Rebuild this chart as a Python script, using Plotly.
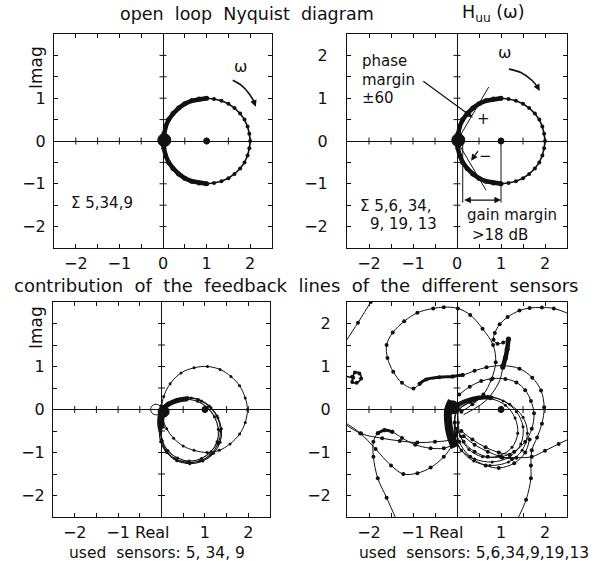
import plotly.graph_objects as go

W, H = 606, 561
INK = "#111111"
FONT = "DejaVu Sans"

# ---------------- data: open loop H_uu(w), real / imag ----------------
huu_dense_re = [1.00, 0.83, 0.66, 0.50, 0.36, 0.23, 0.13, 0.06, 0.02, 0.00,
                0.02, 0.06, 0.13, 0.23, 0.36, 0.50, 0.66, 0.83, 1.00]
huu_dense_im = [1.00, 0.98, 0.94, 0.87, 0.77, 0.64, 0.50, 0.34, 0.17, 0.00,
                -0.17, -0.34, -0.50, -0.64, -0.77, -0.87, -0.94, -0.98, -1.00]
huu_sparse_re = [1.00, 1.17, 1.34, 1.50, 1.64, 1.77, 1.87, 1.94, 1.98, 2.00,
                 1.98, 1.94, 1.87, 1.77, 1.64, 1.50, 1.34, 1.17, 1.00]
huu_sparse_im = [1.00, 0.98, 0.94, 0.87, 0.77, 0.64, 0.50, 0.34, 0.17, 0.00,
                 -0.17, -0.34, -0.50, -0.64, -0.77, -0.87, -0.94, -0.98, -1.00]

# ---------------- data: sensor contributions, sensors 5, 34, 9 ----------------
bl_outer = [(0.0, 0.0), (0.05, 0.3), (0.2, 0.6), (0.45, 0.85), (0.75, 0.97), (1.06, 1.0),
            (1.35, 0.93), (1.6, 0.77), (1.8, 0.55), (1.93, 0.27), (1.98, 0.0), (1.93, -0.3),
            (1.8, -0.57), (1.58, -0.8), (1.33, -0.95), (1.05, -1.0), (0.75, -0.95),
            (0.5, -0.85), (0.28, -0.67), (0.12, -0.45), (0.03, -0.22), (0.0, 0.0)]
bl_ring1 = [(0.0, 0.02), (0.15, 0.15), (0.35, 0.24), (0.6, 0.28), (0.85, 0.23), (1.1, 0.08),
            (1.28, -0.15), (1.38, -0.45), (1.35, -0.76), (1.2, -1.02), (0.95, -1.2),
            (0.65, -1.26), (0.35, -1.19), (0.12, -1.0), (-0.02, -0.75), (-0.05, -0.45),
            (-0.02, -0.2), (0.0, 0.02)]
bl_ring2 = [(0.02, 0.0), (0.17, 0.13), (0.37, 0.21), (0.6, 0.24), (0.83, 0.19), (1.05, 0.05),
            (1.22, -0.17), (1.31, -0.46), (1.28, -0.75), (1.14, -0.98), (0.92, -1.14),
            (0.64, -1.2), (0.37, -1.13), (0.15, -0.96), (0.02, -0.73), (-0.01, -0.45),
            (0.01, -0.2), (0.02, 0.0)]
bl_ring3 = [(0.0, 0.0), (0.2, 0.16), (0.42, 0.25), (0.68, 0.27), (0.92, 0.2), (1.14, 0.04),
            (1.3, -0.2), (1.36, -0.5), (1.3, -0.8), (1.13, -1.05), (0.88, -1.2), (0.58, -1.23),
            (0.3, -1.14), (0.1, -0.95), (0.0, -0.7), (-0.03, -0.42), (0.0, 0.0)]
bl_comet = [(0.0, -0.05), (0.1, 0.08), (0.25, 0.17), (0.45, 0.23), (0.6, 0.25)]
bl_core = [(0.05, 0.1), (0.0, -0.1), (-0.02, -0.3), (0.0, -0.45)]
bl_loop = [(0.0, 0.05), (-0.1, 0.12), (-0.2, 0.1), (-0.25, 0.0), (-0.2, -0.1),
           (-0.08, -0.12), (0.0, -0.05)]

# ---------------- data: sensor contributions, sensors 5, 6, 34, 9, 19, 13 ----------------
br_corner = [(-2.55, 1.55), (-2.25, 2.02), (-1.96, 2.5), (-1.9, 2.6)]
br_small_loop = [(-2.55, 0.78), (-2.38, 0.76), (-2.32, 0.86), (-2.22, 0.84), (-2.18, 0.72),
                 (-2.28, 0.62), (-2.38, 0.64), (-2.36, 0.74)]
br_c_curve = [(0.1, -0.05), (0.35, 0.12), (0.6, 0.35), (0.78, 0.7), (0.88, 1.1), (0.82, 1.5),
              (0.58, 1.88), (0.3, 2.2), (0.02, 2.35), (-0.3, 2.38), (-0.54, 2.35), (-0.9, 2.25),
              (-1.2, 2.05), (-1.46, 1.79), (-1.6, 1.5), (-1.58, 1.2), (-1.45, 0.88),
              (-1.25, 0.62), (-0.99, 0.49), (-0.85, 0.6)]
br_c_thick = [(-0.85, 0.6), (-0.7, 0.7), (-0.4, 0.75), (-0.1, 0.77), (0.13, 0.8)]
br_outer_arc = [(-0.1, 0.77), (0.13, 0.8), (0.4, 0.9), (0.67, 0.98), (1.03, 1.02), (1.42, 0.95),
                (1.71, 0.74), (1.91, 0.44), (1.98, 0.05), (1.93, -0.33), (1.82, -0.65),
                (1.7, -0.95), (1.68, -1.3), (1.68, -1.6), (1.57, -2.1), (1.35, -2.6)]
br_inner_arc = [(0.05, 0.35), (0.29, 0.53), (0.55, 0.66), (0.81, 0.72), (1.1, 0.71), (1.35, 0.63),
                (1.55, 0.45), (1.68, 0.2), (1.75, -0.09), (1.7, -0.45), (1.55, -0.75),
                (1.3, -0.98), (1.0, -1.1), (0.7, -1.1), (0.4, -0.98), (0.15, -0.75), (0.0, -0.45)]
br_hook = [(2.6, 2.2), (2.2, 2.35), (1.93, 2.37), (1.65, 2.36), (1.42, 2.3), (1.15, 2.15),
           (0.97, 1.98), (0.86, 1.78), (0.83, 1.62), (0.92, 1.53), (1.05, 1.56), (1.17, 1.64)]
br_hook_thick = [(1.17, 1.64), (1.14, 1.4), (1.1, 1.2), (1.04, 0.98)]
br_hook_tail = [(1.04, 0.98), (0.98, 0.7), (0.85, 0.45), (0.65, 0.2), (0.4, 0.02), (0.15, -0.12)]
br_ring1 = [(0.0, -0.05), (0.3, 0.17), (0.7, 0.3), (1.05, 0.2), (1.35, -0.05), (1.5, -0.4),
            (1.45, -0.8), (1.2, -1.1), (0.8, -1.22), (0.4, -1.15), (0.1, -0.95), (-0.05, -0.65),
            (-0.05, -0.3), (0.0, -0.05)]
br_ring2 = [(0.0, 0.0), (0.35, 0.2), (0.8, 0.28), (1.2, 0.12), (1.5, -0.18), (1.6, -0.55),
            (1.48, -0.95), (1.17, -1.22), (0.75, -1.3), (0.38, -1.2), (0.1, -0.95),
            (-0.04, -0.6), (0.0, 0.0)]
br_ring3 = [(0.05, 0.0), (0.4, 0.2), (0.75, 0.25), (1.1, 0.1), (1.32, -0.2), (1.38, -0.55),
            (1.25, -0.88), (0.95, -1.08), (0.58, -1.1), (0.27, -0.93), (0.08, -0.62),
            (0.03, -0.3), (0.05, 0.0)]
br_ring4 = [(-0.05, -0.3), (0.05, -0.75), (0.3, -1.1), (0.65, -1.3), (0.95, -1.36),
            (1.3, -1.25), (1.55, -1.0), (1.65, -0.7)]
br_diag1 = [(0.1, -0.5), (0.35, -0.7), (0.65, -0.88), (0.95, -1.0), (1.2, -1.05)]
br_diag2 = [(0.15, -0.62), (0.4, -0.82), (0.7, -0.98), (1.0, -1.1), (1.25, -1.15)]
br_right_tail = [(2.6, -0.66), (2.31, -0.8), (2.0, -0.96), (1.7, -1.1), (1.35, -1.12), (1.03, -1.12)]
br_left_f = [(-2.6, -0.3), (-2.18, -0.56), (-1.7, -0.67), (-1.3, -0.73), (-0.9, -0.77),
             (-0.5, -0.75), (-0.16, -0.7), (-0.02, -0.55)]
br_left_h = [(-2.6, -0.27), (-2.2, -0.55), (-1.85, -0.92), (-1.5, -1.3), (-1.22, -1.5),
             (-0.9, -1.48), (-0.6, -1.35), (-0.3, -1.1), (-0.12, -0.85), (-0.02, -0.6)]
br_bump = [(-1.36, -2.6), (-1.6, -2.05), (-1.8, -1.6), (-1.9, -1.1), (-1.9, -0.75), (-1.8, -0.55),
           (-1.65, -0.48), (-1.47, -0.52), (-1.25, -0.66), (-0.95, -0.82), (-0.6, -0.9),
           (-0.3, -0.9), (-0.08, -0.82)]
br_bump_thick = [(-1.8, -0.55), (-1.65, -0.48), (-1.47, -0.52)]
br_core = [(-0.12, 0.2), (-0.2, 0.0), (-0.2, -0.3), (-0.15, -0.6), (-0.05, -0.88)]
br_comet = [(-0.1, 0.05), (0.2, 0.2), (0.5, 0.28), (0.8, 0.28)]

# ---------------- annotation geometry (data units) ----------------
omega_arc_tl = [(1.6, 1.42), (1.8, 1.3), (1.98, 1.1), (2.1, 0.9)]
omega_arc_tr = [(1.18, 1.68), (1.45, 1.6), (1.7, 1.42), (1.84, 1.25)]
phase_ray_up = [(0.0, 0.0), (0.72, 1.26)]
phase_ray_dn = [(0.0, 0.0), (0.66, -1.15)]
gain_left = [(0.13, 0.0), (0.13, -1.44)]
gain_right = [(1.0, 0.0), (1.0, -1.44)]
axis_ticks = [-2.0, -1.5, -1.0, -0.5, 0.5, 1.0, 1.5, 2.0]

fig = go.Figure()

def xy(pts):
    return [p[0] for p in pts], [p[1] for p in pts]

def curve(sub, x, y, width=1.0, msize=0, symbol="circle", shape="spline"):
    fig.add_trace(go.Scatter(
        x=x, y=y, xaxis="x" + sub, yaxis="y" + sub,
        mode="lines+markers" if msize else "lines",
        line=dict(color=INK, width=width, shape=shape),
        marker=dict(size=msize, color=INK, symbol=symbol),
        showlegend=False, hoverinfo="skip"))

def pts_curve(sub, pts, width=1.0, msize=0, shape="spline"):
    x, y = xy(pts)
    curve(sub, x, y, width, msize, shape=shape)

def dots(sub, x, y, size, symbol="circle"):
    fig.add_trace(go.Scatter(
        x=x, y=y, xaxis="x" + sub, yaxis="y" + sub, mode="markers",
        marker=dict(size=size, color=INK, symbol=symbol, line=dict(color=INK, width=1)),
        showlegend=False, hoverinfo="skip"))

# small tick marks along the internal zero axes of every panel
for sub in ["", "2", "3", "4"]:
    dots(sub, axis_ticks, [0] * len(axis_ticks), 5, "line-ns")
    dots(sub, [0] * len(axis_ticks), axis_ticks, 5, "line-ew")

# ---- top panels: H_uu(w) ----
for sub in ["", "2"]:
    curve(sub, huu_dense_re, huu_dense_im, width=4.5, msize=5, shape="linear")
    curve(sub, huu_sparse_re, huu_sparse_im, width=1.6, msize=4, shape="linear")
    dots(sub, [0.03], [0.02], 13)
    dots(sub, [1.0], [0.0], 6)

x, y = xy(omega_arc_tl)
curve("", x, y, width=1.6)
x, y = xy(omega_arc_tr)
curve("2", x, y, width=1.6)
for pts in [phase_ray_up, phase_ray_dn, gain_left, gain_right]:
    x, y = xy(pts)
    curve("2", x, y, width=1.0, shape="linear")

# ---- bottom-left: sensors 5, 34, 9 ----
pts_curve("3", bl_outer, 1.0, 3)
for ring in [bl_ring1, bl_ring2, bl_ring3]:
    pts_curve("3", ring, 1.1, 3)
pts_curve("3", bl_loop, 1.0)
pts_curve("3", bl_comet, 5.0)
pts_curve("3", bl_core, 7.0)
dots("3", [0.05], [-0.05], 11)
dots("3", [1.0], [0.0], 6)

# ---- bottom-right: sensors 5, 6, 34, 9, 19, 13 ----
for pts, w, m in [(br_corner, 1.0, 4), (br_small_loop, 1.6, 4), (br_c_curve, 1.0, 4),
                  (br_c_thick, 3.0, 4), (br_outer_arc, 1.0, 4), (br_inner_arc, 1.0, 4),
                  (br_hook, 1.0, 4), (br_hook_thick, 4.5, 5), (br_hook_tail, 1.0, 0),
                  (br_ring1, 1.0, 3), (br_ring2, 1.0, 3), (br_ring3, 1.0, 3), (br_ring4, 1.0, 4),
                  (br_diag1, 1.0, 4), (br_diag2, 1.0, 4), (br_right_tail, 1.0, 4),
                  (br_left_f, 1.0, 4), (br_left_h, 1.0, 4), (br_bump, 1.0, 4),
                  (br_bump_thick, 3.0, 4), (br_core, 8.0, 0), (br_comet, 4.0, 0)]:
    pts_curve("4", pts, w, m)
dots("4", [-0.1], [0.05], 13)
dots("4", [1.0], [0.0], 6)

# ---------------- axes ----------------
def px(v):
    return v / W

def py(v):
    return 1 - v / H

panels = {
    "": ([54, 272], [34, 248]),
    "2": ([347, 567], [34, 248]),
    "3": ([53, 270], [302, 517]),
    "4": ([347, 567], [302, 517]),
}
ytick_sets = {"": [-2, -1, 0, 1], "2": [-2, -1, 0, 1, 2], "3": [-2, -1, 0, 1], "4": [-2, -1, 0, 1, 2]}
ystand = {"": 4, "2": 15, "3": 4, "4": 12}
xtick_sets = {"": [-2, -1, 0, 1, 2], "2": [-2, -1, 0, 1, 2], "3": [-2, -1, 1, 2], "4": [-2, -1, 1, 2]}

def ticktext(vals):
    return [("\u2212" + str(-v)) if v < 0 else str(v) for v in vals]

layout = dict(
    width=W, height=H, margin=dict(l=0, r=0, t=0, b=0),
    paper_bgcolor="white", plot_bgcolor="white",
    font=dict(family=FONT, color=INK, size=15),
)
for sub, (xd, yd) in panels.items():
    common = dict(range=[-2.5, 2.5], showgrid=False, zeroline=True, zerolinecolor=INK,
                  zerolinewidth=1, showline=True, linecolor=INK, linewidth=1, mirror="ticks",
                  ticks="inside", ticklen=4, tickcolor=INK, tickwidth=1,
                  minor=dict(ticks="inside", dtick=0.5, ticklen=4, tickcolor=INK),
                  tickfont=dict(family=FONT, size=16, color=INK), fixedrange=True)
    xv = xtick_sets[sub]
    yv = ytick_sets[sub]
    layout["xaxis" + sub] = dict(common, domain=[px(xd[0]), px(xd[1])],
                                 anchor="y" + sub, tickmode="array", tickvals=xv,
                                 ticktext=ticktext(xv), ticklabelstandoff=1)
    layout["yaxis" + sub] = dict(common, domain=[py(yd[1]), py(yd[0])],
                                 anchor="x" + sub, tickmode="array", tickvals=yv,
                                 ticktext=ticktext(yv), ticklabelstandoff=ystand[sub])
fig.update_layout(**layout)

# ---------------- text ----------------
ann = []

def ptext(x, y, text, size=16, xanchor="center", angle=0):
    ann.append(dict(x=px(x), y=py(y), xref="paper", yref="paper", text=text, showarrow=False,
                    xanchor=xanchor, yanchor="middle", textangle=angle,
                    font=dict(family=FONT, size=size, color=INK)))

def dtext(sub, x, y, text, size=15, xanchor="center"):
    ann.append(dict(x=x, y=y, xref="x" + sub, yref="y" + sub, text=text, showarrow=False,
                    xanchor=xanchor, yanchor="middle",
                    font=dict(family=FONT, size=size, color=INK)))

def arrow(sub, x0, y0, x1, y1, side="end", head=2):
    ann.append(dict(x=x1, y=y1, ax=x0, ay=y0, xref="x" + sub, yref="y" + sub,
                    axref="x" + sub, ayref="y" + sub, text="", showarrow=True,
                    arrowhead=head, arrowsize=1.1, arrowwidth=1.2, arrowcolor=INK,
                    arrowside=side, standoff=0, startstandoff=0))

ptext(118, 14, "open  loop  Nyquist  diagram", 17.5, "left")
ptext(460, 14, "H<sub>uu</sub> (\u03c9)", 17.5, "left")
ptext(296, 285, "contribution  of  the  feedback  lines  of  the  different  sensors", 18)
ptext(36, 68, "Imag", 17, angle=-90)
ptext(36, 328, "Imag", 17, angle=-90)
ptext(157, 553, "used  sensors: 5, 34, 9", 15.5)
ptext(474, 553, "used  sensors: 5,6,34,9,19,13", 15.5)
ptext(152, 532, "Real", 16)
ptext(446, 532, "Real", 16)

dtext("", 1.77, 1.74, "\u03c9", 16)
dtext("", -1.4, -1.45, "\u03a3 5,34,9", 15)
arrow("", 2.06, 0.98, 2.13, 0.8)

dtext("2", 1.08, 2.07, "\u03c9", 16)
arrow("2", 1.8, 1.32, 1.88, 1.17)
dtext("2", -2.2, 1.87, "phase", 15, "left")
dtext("2", -2.2, 1.43, "margin", 15, "left")
dtext("2", -2.2, 1.0, "\u00b160", 15, "left")
arrow("2", -0.8, 1.42, 0.36, 0.55)
dtext("2", 0.6, 0.52, "+", 15)
arrow("2", 0.5, -0.2, 0.32, -0.46)
dtext("2", 0.64, -0.34, "\u2212", 15)
arrow("2", 0.13, -1.38, 1.0, -1.38, side="end+start")
dtext("2", -2.25, -1.52, "\u03a3 5,6, 34,", 15, "left")
dtext("2", -2.02, -1.94, "9, 19, 13", 15, "left")
dtext("2", 1.25, -1.73, "gain margin", 15)
dtext("2", 0.3, -2.2, ">18 dB", 15, "left")

fig.update_layout(annotations=ann)
fig.write_html("out.html")
